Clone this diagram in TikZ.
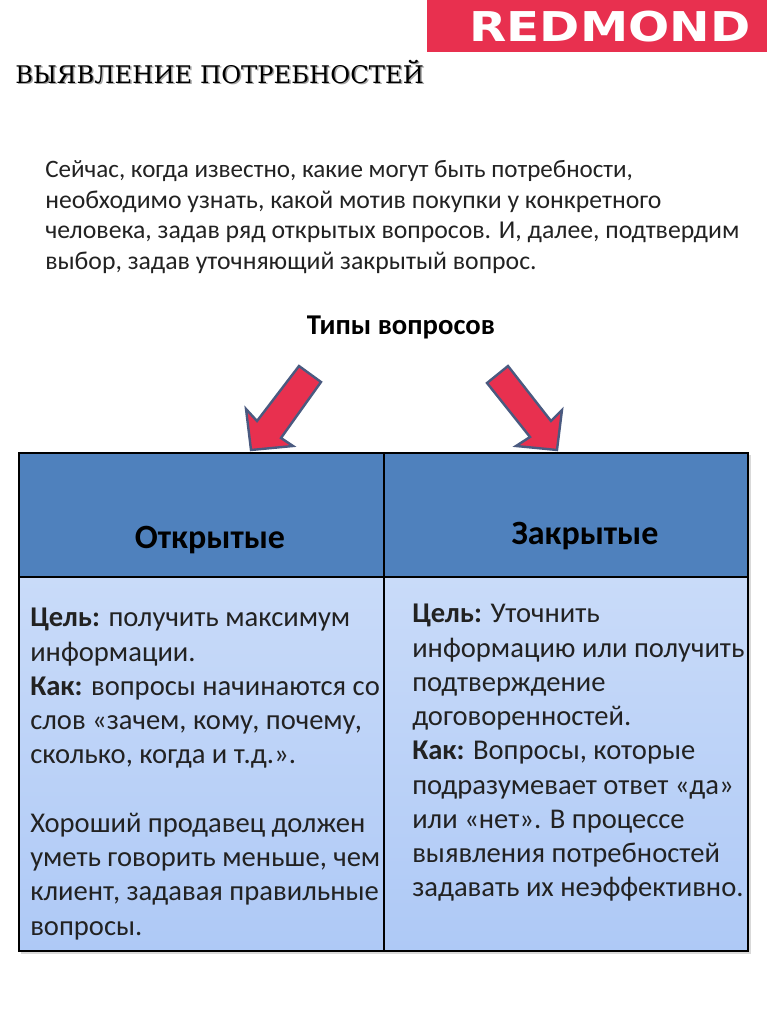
\documentclass[tikz,border=0pt]{standalone}
\usepackage{fontspec}
\setmainfont{Carlito}
\newfontfamily\titlefont{DejaVu Serif}
\newfontfamily\logofont[FakeStretch=1.18]{DejaVu Sans}
\definecolor{logored}{HTML}{E8304F}
\definecolor{arrowred}{HTML}{E8304F}
\definecolor{arrowedge}{HTML}{4A5A80}
\definecolor{headblue}{HTML}{4F81BD}
\definecolor{celltop}{HTML}{C9DBF9}
\definecolor{cellbottom}{HTML}{AEC9F6}
\definecolor{bodyink}{HTML}{222222}
\tikzset{
    intro/.style={anchor=north west, inner sep=0pt, align=left, text=bodyink, font=\fontsize{19.3}{23.1}\selectfont},
    headtext/.style={inner sep=0pt, font=\fontsize{25.5}{28}\selectfont\bfseries},
    celltext/.style={anchor=north west, inner sep=0pt, align=left, text=bodyink, font=\fontsize{21.45}{25.7}\selectfont},
    redarrow/.style={fill=arrowred, draw=arrowedge, line width=1.8pt, line join=miter},
    tablecell/.style={draw=black, line width=0.9pt}
}
\begin{document}
\begin{tikzpicture}[x=0.75pt, y=-0.75pt]
    \useasboundingbox (0,0) rectangle (767,1024);

    \fill[logored] (427,0) rectangle (767,52);
    \node[inner sep=0pt, text=white, font=\logofont\fontsize{30.8}{32}\selectfont\bfseries] (logo) at (610,27) {REDMOND};

    \node[anchor=west, inner sep=0pt, text=black!35, font=\titlefont\fontsize{18.2}{20}\selectfont] (titleshadow) at (16.5,73.5) {ВЫЯВЛЕНИЕ ПОТРЕБНОСТЕЙ};
    \node[anchor=west, inner sep=0pt, font=\titlefont\fontsize{18.2}{20}\selectfont] (title) at (15,72) {ВЫЯВЛЕНИЕ ПОТРЕБНОСТЕЙ};

    \node[intro] (intro) at (45,160) {{\fontsize{18.8}{23.1}\selectfont Сейчас, когда известно, какие могут быть потребности,}\\
        необходимо узнать, какой мотив покупки у конкретного\\
        человека, задав ряд открытых вопросов. И, далее, подтвердим\\
        выбор, задав уточняющий закрытый вопрос.};
    \node[headtext, font=\fontsize{21.5}{25}\selectfont\bfseries] (types) at (401,327) {Типы вопросов};

    % arrows
    \draw[redarrow] (251,450) -- (246,409) -- (257,421) -- (299,366) -- (321,382) -- (281,438) -- (293,446) -- cycle;
    \draw[redarrow] (557,450) -- (562,410) -- (551,421) -- (508,366) -- (487,383) -- (530,437) -- (516,446) -- cycle;

    % table
    \fill[black!15] (21,455) rectangle (751,954);
    \fill[headblue] (19,453) rectangle (748,577);
    \shade[top color=celltop, bottom color=cellbottom] (19,577) rectangle (384,951);
    \shade[top color=celltop, bottom color=cellbottom] (384,577) rectangle (748,951);
    \draw[tablecell] (19,453) rectangle (384,577);
    \draw[tablecell] (384,453) rectangle (748,577);
    \draw[tablecell] (19,577) rectangle (384,951);
    \draw[tablecell] (384,577) rectangle (748,951);

    \node[headtext] (openhead) at (210,540) {Открытые};
    \node[headtext] (closedhead) at (585,536) {Закрытые};

    \node[celltext] (opentext) at (30,608) {\textbf{Цель:} получить максимум\\
        информации.\\
        \textbf{Как:} вопросы начинаются со\\
        слов «зачем, кому, почему,\\
        сколько, когда и т.д.».\\[25.7pt]
        Хороший продавец должен\\
        уметь говорить меньше, чем\\
        клиент, задавая правильные\\
        вопросы.};
    \node[celltext] (closedtext) at (412,604) {\textbf{Цель:} Уточнить\\
        информацию или получить\\
        подтверждение\\
        договоренностей.\\
        \textbf{Как:} Вопросы, которые\\
        подразумевает ответ «да»\\
        или «нет». В процессе\\
        выявления потребностей\\
        задавать их неэффективно.};
\end{tikzpicture}
\end{document}
